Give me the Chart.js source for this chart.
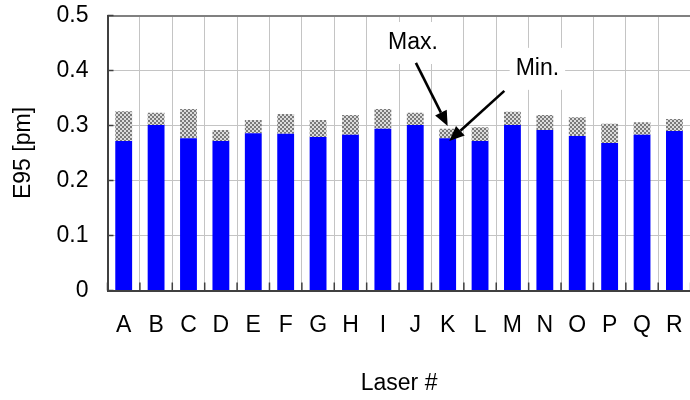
<!DOCTYPE html>
<html>
<head>
<meta charset="utf-8">
<script src="https://cdn.jsdelivr.net/npm/chart.js@4"></script>
<style>
  html, body { margin: 0; padding: 0; background: #fff; overflow: hidden; }
  #wrap { width: 690px; height: 400px; overflow: hidden; }
</style>
</head>
<body>
<div id="wrap"><canvas id="grafico" width="704" height="400"></canvas></div>
<script>
// Dados
const lasers = ["A", "B", "C", "D", "E", "F", "G", "H", "I", "J", "K", "L", "M", "N", "O", "P", "Q", "R"];
const minE95 = [0.272, 0.301, 0.277, 0.272, 0.286, 0.285, 0.279, 0.283, 0.294, 0.301, 0.277, 0.272, 0.301, 0.292, 0.281, 0.268, 0.283, 0.290];
const maxE95 = [0.326, 0.323, 0.330, 0.292, 0.310, 0.321, 0.310, 0.319, 0.330, 0.323, 0.294, 0.297, 0.325, 0.319, 0.315, 0.303, 0.306, 0.312];
const yTicks = [0, 0.1, 0.2, 0.3, 0.4, 0.5];

const FONTE = "'Liberation Sans', Arial, sans-serif";
Chart.defaults.font.family = FONTE;
Chart.defaults.font.size = 23;
Chart.defaults.color = "#000";

// Padrão xadrez cinza da parte "Max."
function padraoXadrez() {
  const c = document.createElement("canvas");
  c.width = 4; c.height = 4;
  const g = c.getContext("2d");
  g.fillStyle = "#dcdcdc";
  g.fillRect(0, 0, 4, 4);
  g.fillStyle = "#7a7a7a";
  g.fillRect(0, 0, 2, 2);
  g.fillRect(2, 2, 2, 2);
  return document.getElementById("grafico").getContext("2d").createPattern(c, "repeat");
}

// Marcas dos eixos desenhadas para dentro
const marcasInternas = {
  id: "marcasInternas",
  afterDatasetsDraw(chart) {
    const { ctx, chartArea } = chart;
    const x = chart.scales.x, y = chart.scales.y;
    ctx.save();
    ctx.strokeStyle = "#404040";
    ctx.lineWidth = 1.5;
    ctx.beginPath();
    yTicks.forEach(v => {
      const py = y.getPixelForValue(v);
      ctx.moveTo(chartArea.left, py);
      ctx.lineTo(chartArea.left + 6, py);
    });
    for (let i = 0; i <= lasers.length; i++) {
      const px = x.getPixelForValue(i - 0.5);
      ctx.moveTo(px, chartArea.bottom);
      ctx.lineTo(px, chartArea.bottom - 8);
    }
    ctx.stroke();
    ctx.restore();
  }
};

// Rótulos "Max." e "Min." com setas apontando para o laser K
const anotacoes = [
  { texto: "Max.", tx: 8.93, ty: 0.45, de: [9.02, 0.414], ate: [10.0, 0.299] },
  { texto: "Min.", tx: 12.77, ty: 0.403, de: [11.75, 0.363], ate: [10.05, 0.272] }
];

function seta(ctx, x0, y0, x1, y1) {
  const ang = Math.atan2(y1 - y0, x1 - x0);
  const comp = 15, larg = 6.5;
  const bx = x1 - comp * Math.cos(ang), by = y1 - comp * Math.sin(ang);
  ctx.beginPath();
  ctx.moveTo(x0, y0);
  ctx.lineTo(bx, by);
  ctx.stroke();
  ctx.beginPath();
  ctx.moveTo(x1, y1);
  ctx.lineTo(bx + larg * Math.sin(ang), by - larg * Math.cos(ang));
  ctx.lineTo(bx - larg * Math.sin(ang), by + larg * Math.cos(ang));
  ctx.closePath();
  ctx.fill();
}

const setas = {
  id: "setas",
  afterDatasetsDraw(chart) {
    const { ctx } = chart;
    const x = chart.scales.x, y = chart.scales.y;
    ctx.save();
    ctx.font = "23px " + FONTE;
    ctx.textAlign = "center";
    ctx.textBaseline = "middle";
    anotacoes.forEach(a => {
      const cx = x.getPixelForValue(a.tx), cy = y.getPixelForValue(a.ty);
      const w = ctx.measureText(a.texto).width + 12;
      ctx.fillStyle = "#fff";
      ctx.fillRect(cx - w / 2, cy - 21, w, 42);
      ctx.fillStyle = "#000";
      ctx.fillText(a.texto, cx, cy);
      ctx.strokeStyle = "#000";
      ctx.lineWidth = 2.6;
      seta(ctx, x.getPixelForValue(a.de[0]), y.getPixelForValue(a.de[1]),
        x.getPixelForValue(a.ate[0]), y.getPixelForValue(a.ate[1]));
    });
    ctx.restore();
  }
};

new Chart(document.getElementById("grafico"), {
  type: "bar",
  data: {
    labels: lasers,
    datasets: [
      {
        label: "Min.",
        data: minE95,
        backgroundColor: "#0000ff",
        grouped: false,
        barPercentage: 0.52,
        categoryPercentage: 1.0
      },
      {
        label: "Max.",
        data: lasers.map((_, i) => [minE95[i], maxE95[i]]),
        backgroundColor: padraoXadrez(),
        grouped: false,
        barPercentage: 0.52,
        categoryPercentage: 1.0
      }
    ]
  },
  options: {
    responsive: false,
    animation: false,
    devicePixelRatio: 1,
    layout: { padding: { top: 15.5, right: 9.7, bottom: 0, left: 0 } },
    plugins: { legend: { display: false }, tooltip: { enabled: false } },
    scales: {
      x: {
        afterFit: s => { s.height = 109.5; },
        grid: { offset: true, color: "#c4c4c4", lineWidth: 1, drawTicks: false },
        border: { color: "#404040", width: 2 },
        ticks: { padding: 21 },
        title: { display: true, text: "Laser #", padding: { top: 0, bottom: 3 } }
      },
      y: {
        min: 0,
        max: 0.5,
        afterFit: s => { s.width = 107.5; s.paddingTop = 0; s.paddingBottom = 0; },
        afterBuildTicks: s => { s.ticks = yTicks.map(v => ({ value: v })); },
        grid: {
          drawTicks: false,
          color: c => c.tick && c.tick.value === 0.5 ? "#808080" : "#c4c4c4",
          lineWidth: c => c.tick && c.tick.value === 0.5 ? 2 : 1
        },
        border: { color: "#404040", width: 2 },
        ticks: { padding: 19 },
        title: { display: true, text: "E95 [pm]", padding: { top: 10, bottom: 0 } }
      }
    }
  },
  plugins: [marcasInternas, setas]
});
</script>
</body>
</html>
